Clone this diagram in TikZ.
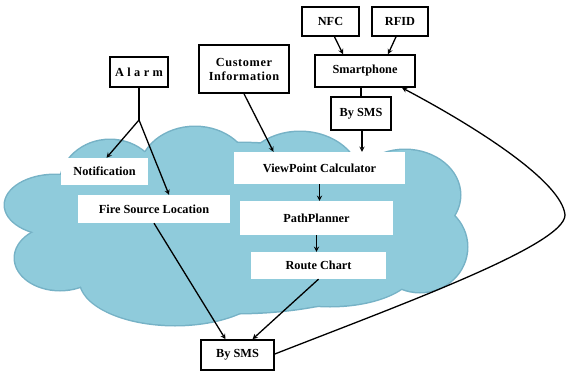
\documentclass[tikz,border=0pt]{standalone}
\usepackage{fontspec}
\setmainfont{Liberation Serif}
\definecolor{cloudfill}{RGB}{143,203,219}
\definecolor{cloudedge}{RGB}{118,178,198}
\tikzset{
  box/.style={draw, line width=1.6pt, fill=white, inner sep=0pt,
    font=\fontsize{12.3}{14}\selectfont\bfseries},
  wbox/.style={fill=white, inner sep=0pt,
    font=\fontsize{12.3}{14}\selectfont\bfseries},
  link/.style={line width=1.3pt, ->, >=stealth}
}
\begin{document}
\begin{tikzpicture}[x=1pt, y=-1pt]
  \useasboundingbox (0,0) rectangle (567,372);
  % cloud: edge first, fill on top
  \foreach \cx/\cy/\rx/\ry in {236/228/200/85, 110/185/50/45, 195/172/55/45,
      300/180/60/48, 405/195/55/45, 420/247/47/45, 55/205/50/30,
      60/258/45/32, 175/280/95/45, 330/268/85/38}
    \fill[cloudedge] (\cx,\cy) ellipse [x radius=\rx+1.5, y radius=\ry+1.5];
  \foreach \cx/\cy/\rx/\ry in {236/228/200/85, 110/185/50/45, 195/172/55/45,
      300/180/60/48, 405/195/55/45, 420/247/47/45, 55/205/50/30,
      60/258/45/32, 175/280/95/45, 330/268/85/38}
    \fill[cloudfill] (\cx,\cy) ellipse [x radius=\rx, y radius=\ry];

  % boxes
  \node[box, minimum width=57pt, minimum height=29pt] (nfc) at (330.5,21.5) {NFC};
  \node[box, minimum width=56pt, minimum height=29pt] (rfid) at (400,21.5) {RFID};
  \node[box, minimum width=100pt, minimum height=32pt] (smart) at (365,71) {Smartphone};
  \node[box, minimum width=60pt, minimum height=33pt] (smstop) at (361,113.5) {By SMS};
  \node[box, minimum width=90pt, minimum height=48pt, align=center] (cust) at (244,69)
    {\addfontfeature{LetterSpace=5}Customer\\\addfontfeature{LetterSpace=5}Information};
  \node[box, minimum width=58pt, minimum height=30pt] (alarm) at (139,72)
    {\addfontfeature{LetterSpace=28}Alarm};
  \node[wbox, minimum width=87pt, minimum height=27pt] (notif) at (104.5,171.5) {Notification};
  \node[wbox, minimum width=152pt, minimum height=28pt] (fire) at (154,209) {Fire Source Location};
  \node[wbox, minimum width=171pt, minimum height=32pt] (view) at (319.5,168) {ViewPoint Calculator};
  \node[wbox, minimum width=153pt, minimum height=34pt] (path) at (316.5,218) {PathPlanner};
  \node[wbox, minimum width=135pt, minimum height=27pt] (route) at (318.5,265.5) {Route Chart};
  \node[box, minimum width=73pt, minimum height=30pt] (smsbot) at (237.5,355) {By SMS};
  \coordinate (junc) at (139,120);
  \coordinate (farright) at (565,215);

  % connectors
  \draw[link] ([xshift=4pt]nfc.south) -- ([xshift=-22pt]smart.north);
  \draw[link] ([xshift=-4pt]rfid.south) -- ([xshift=23pt]smart.north);
  \draw[line width=1.3pt] (smstop.north |- smart.south) -- (smstop.north);
  \draw[link] ([xshift=1pt]smstop.south) -- ([xshift=1pt]smstop.south |- view.north);
  \draw[link] (cust.south) -- ([xshift=-46pt]view.north);
  \draw[line width=1.3pt] (alarm.south) -- (junc);
  \draw[link] (junc) -- ([xshift=2pt]notif.north);
  \draw[link] (junc) -- ([xshift=15pt]fire.north);
  \draw[link] (view.south) -- (view.south |- path.north);
  \draw[link] (path.south) -- (path.south |- route.north);
  \draw[link] (fire.south) -- ([xshift=-12pt]smsbot.north);
  \draw[link] (route.south) -- ([xshift=15pt]smsbot.north);
  \draw[link] ([yshift=1pt]smsbot.east) .. controls (400,305) and (565,245) .. (farright)
    .. controls (562,182) and (478,128) .. ([xshift=37pt]smart.south);
\end{tikzpicture}
\end{document}
